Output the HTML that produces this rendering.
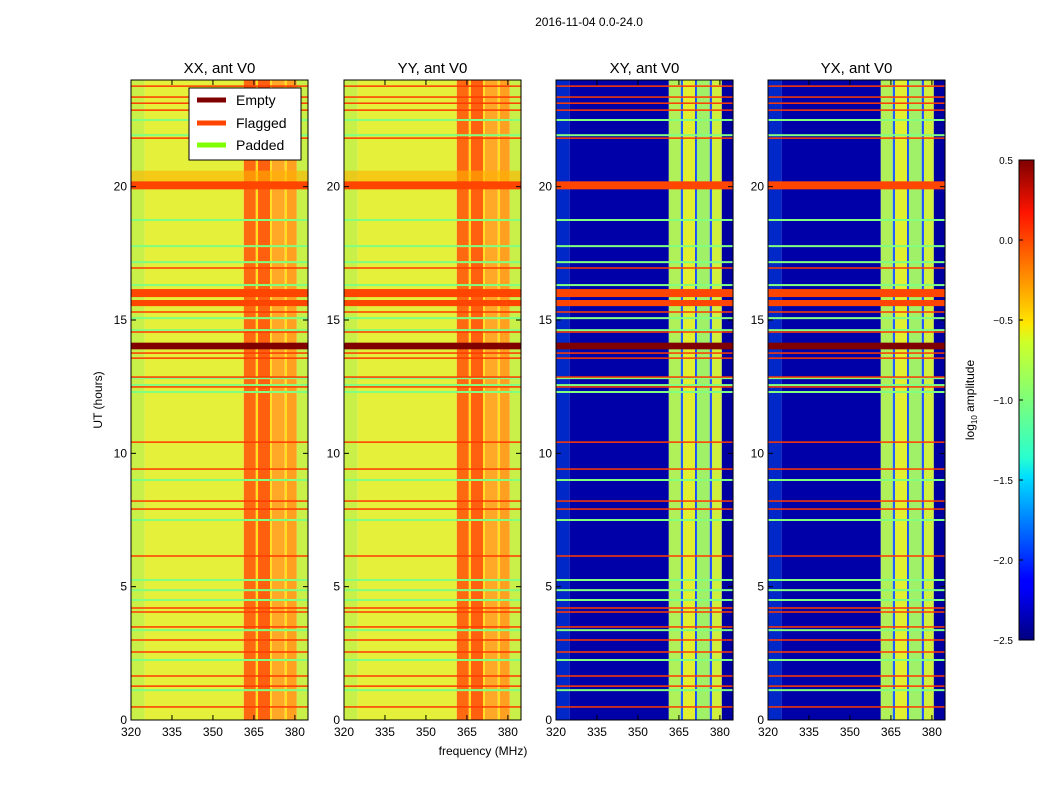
<!DOCTYPE html>
<html><head><meta charset="utf-8"><style>
body{margin:0;background:#fff;font-family:"Liberation Sans",sans-serif}
svg text{font-family:"Liberation Sans",sans-serif}
</style></head><body>
<svg id="c" width="1050" height="800" xmlns="http://www.w3.org/2000/svg">
<text x="589" y="26" font-size="12" text-anchor="middle">2016-11-04 0.0-24.0</text>
<text x="483" y="755" font-size="12" text-anchor="middle">frequency (MHz)</text>
<text transform="translate(102,400) rotate(-90)" font-size="12" text-anchor="middle">UT (hours)</text>
</svg>
<script>
const panelTitles=["XX, ant V0","YY, ant V0","XY, ant V0","YX, ant V0"];
const panelLefts=[131,344,556,768];
const xTicks=[320,335,350,365,380];
const yTicks=[0,5,10,15,20];
const cbTicks=[0.5,0.0,-0.5,-1.0,-1.5,-2.0,-2.5];
// frequency column bands [start,end] and colour per panel type
const colStarts=[320,325,361.3,365.7,366.5,370.9,371.6,376.3,377.1,380.7];
const colEnds=[325,361.3,365.7,366.5,370.9,371.6,376.3,377.1,380.7,385];
const autoColors=["#c8f048","#e4f03a","#ff6a10","#ffe020","#ff6010","#ffe020","#ffa828","#ffe020","#ffa020","#c8f048"];
const crossColors=["#0028c8","#0000a8","#b0f058","#2060ff","#e0f030","#1048ff","#a0f068","#2050ff","#d0f040","#0000a0"];
const flagThin=[23.77,23.36,23.13,22.87,21.82,16.95,15.30,14.55,13.76,13.57,12.86,12.49,10.42,9.41,8.21,7.91,6.15,4.20,4.05,3.49,3.00,2.55,1.65,1.27,0.49];
const flagBandStart=[19.9,15.86,15.52];
const flagBandEnd=[20.2,16.16,15.75];
const emptyStart=[13.9];
const emptyEnd=[14.15];
const padded=[22.5,21.93,18.75,17.77,17.17,16.31,15.07,14.62,12.82,12.56,12.3,9.0,7.5,5.25,4.87,4.5,3.37,2.25,1.12];

const NS="http://www.w3.org/2000/svg";
const svg=document.getElementById('c');
const T=80,B=720,W=177,F0=320,F1=384.8,H0=0,H1=24;
function el(t,a,p){const e=document.createElementNS(NS,t);for(const k in a)e.setAttribute(k,a[k]);(p||svg).appendChild(e);return e;}
function yS(h){return B-(h-H0)/(H1-H0)*(B-T);}

panelLefts.forEach((L,pi)=>{
  const xS=f=>L+(f-F0)/(F1-F0)*W;
  const g=el('g',{});
  
  
  const cols=pi<2?autoColors:crossColors;
  colStarts.forEach((s,i)=>{
    const r=el('rect',{x:xS(s),y:T,width:xS(colEnds[i])-xS(s),height:B-T,fill:cols[i]},g);
    
    
  });
  if(pi<2){el('rect',{x:L,y:yS(20.6),width:W,height:yS(20.2)-yS(20.6),fill:"#ffb000",opacity:0.6},g);}
  padded.forEach(h=>{
    const r=el('rect',{x:L,y:yS(h)-1,width:W,height:2,fill:"#80ff80"},g);
    
    
  });
  flagThin.forEach(h=>{
    const r=el('rect',{x:L,y:yS(h)-0.75,width:W,height:1.5,fill:"#ff3a00"},g);
    
    
  });
  flagBandStart.forEach((s,i)=>{
    const r=el('rect',{x:L,y:yS(flagBandEnd[i]),width:W,height:yS(s)-yS(flagBandEnd[i]),fill:"#ff4500"},g);
    
    
  });
  emptyStart.forEach((s,i)=>{
    const r=el('rect',{x:L,y:yS(emptyEnd[i]),width:W,height:yS(s)-yS(emptyEnd[i]),fill:"#800000"},g);
    
    
  });
  el('rect',{x:L,y:T,width:W,height:B-T,fill:"none",stroke:"#000","stroke-width":1},g);
  const t=el('text',{x:L+W/2,y:73,"font-size":15,"text-anchor":"middle"});
  t.textContent=panelTitles[pi];
  
  
  xTicks.forEach(v=>{
    el('line',{x1:xS(v),x2:xS(v),y1:B,y2:B-5,stroke:"#000"});
    el('line',{x1:xS(v),x2:xS(v),y1:T,y2:T+5,stroke:"#000"});
    const tt=el('text',{x:xS(v),y:B+16,"font-size":12,"text-anchor":"middle"});
    tt.textContent=v;
    
    
  });
  yTicks.forEach(v=>{
    el('line',{x1:L,x2:L+5,y1:yS(v),y2:yS(v),stroke:"#000"});
    el('line',{x1:L+W,x2:L+W-5,y1:yS(v),y2:yS(v),stroke:"#000"});
    const tt=el('text',{x:L-4,y:yS(v)+4,"font-size":12,"text-anchor":"end"});
    tt.textContent=v;
    
    
  });
});

// legend
const lg=el('g',{});


el('rect',{x:189,y:88,width:112,height:72,fill:"#fff",stroke:"#000"},lg);
[["Empty","#800000",100],["Flagged","#ff4500",123],["Padded","#80ff00",145]].forEach(e=>{
  el('line',{x1:197,x2:226,y1:e[2],y2:e[2],stroke:e[1],"stroke-width":5},lg);
  const t=el('text',{x:236,y:e[2]+5,"font-size":14},lg);
  t.textContent=e[0];
  
  
});

// colorbar
const defs=el('defs',{});
const gr=el('linearGradient',{id:"jet",x1:0,y1:1,x2:0,y2:0},defs);
[["0","#00007f"],["0.11","#0000ff"],["0.125","#0000ff"],["0.34","#00dfff"],["0.38","#29ffce"],["0.5","#7dff7a"],["0.62","#ceff29"],["0.66","#ffe600"],["0.89","#ff1400"],["1","#7f0000"]].forEach(s=>el('stop',{offset:s[0],"stop-color":s[1]},gr));
const cb=el('rect',{x:1019,y:160,width:15,height:480,fill:"url(#jet)",stroke:"#000"});


cbTicks.forEach(v=>{
  const y=160+(0.5-v)*160;
  el('line',{x1:1019,x2:1023,y1:y,y2:y,stroke:"#000"});
  const t=el('text',{x:1013,y:y+4,"font-size":10,"text-anchor":"end"});
  t.textContent=v.toFixed(1).replace('-','\u2212');
  
  
});
const cl=el('text',{transform:"translate(974,400) rotate(-90)","font-size":12,"text-anchor":"middle"});
cl.innerHTML='log<tspan font-size="8" dy="3">10</tspan><tspan dy="-3"> amplitude</tspan>';


</script>
</body></html>
